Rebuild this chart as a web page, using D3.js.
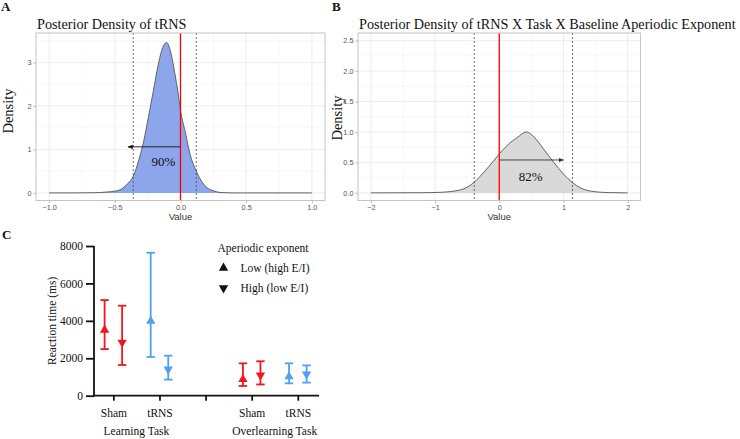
<!DOCTYPE html>
<html><head><meta charset="utf-8">
<script src="https://cdn.jsdelivr.net/npm/d3@7"></script>
<style>
body{margin:0;background:#fff;}
svg{display:block;}
</style></head>
<body>
<svg id="chart" width="740" height="439"></svg>
<script>
// ---------- DATA ----------
// Panel A: posterior density of tRNS
const densAx = [-1,-0.8,-0.65,-0.56,-0.5,-0.46,-0.43,-0.40,-0.36,-0.32,-0.28,-0.245,-0.207,-0.169,-0.131,-0.105,-0.08,-0.042,-0.017,0,0.034,0.072,0.123,0.174,0.21,0.25,0.3,0.4,1];
const densAy = [0,0,0.005,0.02,0.04,0.07,0.13,0.22,0.38,0.73,1.19,1.73,2.34,2.96,3.38,3.46,3.3,2.73,2.27,1.9,1.43,0.9,0.48,0.21,0.1,0.05,0.01,0,0];
const ciA = [-0.36, 0.12];
const arrowA = {from:0, to:-0.40, y:1.06, label:"90%", lx:-0.13, ly:0.62};
const xTicksA = [-1.0,-0.5,0.0,0.5,1.0];
const yTicksA = [0,1,2,3];

// Panel B: posterior density of tRNS x Task x Baseline aperiodic exponent
const densBx = [-2,-1.2,-0.91,-0.6,-0.395,-0.24,-0.084,0,0.124,0.28,0.425,0.54,0.69,0.85,1.0,1.14,1.27,1.42,1.7,2];
const densBy = [0,0.003,0.01,0.05,0.17,0.34,0.53,0.64,0.78,0.91,1.0,0.92,0.72,0.5,0.31,0.17,0.08,0.03,0.005,0];
const ciB = [-0.39, 1.14];
const arrowB = {from:0, to:1.0, y:0.54, label:"82%", lx:0.49, ly:0.2};
const xTicksB = [-2,-1,0,1,2];
const yTicksB = [0,0.5,1.0,1.5,2.0,2.5];

// Panel C: reaction times
const cCategories = ["Sham","tRNS","","Sham","tRNS"];
const cTasks = ["Learning Task","Overlearning Task"];
const cStim  = ["Sham","Sham","tRNS","tRNS","Sham","Sham","tRNS","tRNS"];
const cIndex = [0,0,1,1,3,3,4,4];
const cExp   = ["Low","High","Low","High","Low","High","Low","High"];
const cMean  = [3510,2850,3990,1410,870,1100,1020,1150];
const cUpper = [5110,4810,7640,2140,1730,1840,1730,1620];
const cLower = [2490,1640,2070,860,520,600,660,700];
const cYTicks = [0,2000,4000,6000,8000];
const legendTitle = "Aperiodic exponent";
const legendLabels = ["Low (high E/I)","High (low E/I)"];

// ---------- STYLE ----------
const serif = "'Liberation Serif','Times New Roman',serif";
const sans = "'Liberation Sans',Arial,sans-serif";
const gridCol = "#ebebeb", borderCol = "#c4c4c4", tickTextCol = "#555";
const red = "#f2161e", blue = "#519ff0";

const svg = d3.select("#chart");
const defs = svg.append("defs");
function mk(id,col){
  defs.append("marker").attr("id",id).attr("viewBox","0 0 10 10").attr("refX",9).attr("refY",5)
   .attr("markerWidth",6).attr("markerHeight",6).attr("orient","auto-start-reverse")
   .append("path").attr("d","M0,1 L10,5 L0,9 z").attr("fill",col);
}
mk("arrA","#111"); mk("arrB","#333");

function densityPanel(o){
  const g = svg.append("g");
  const x = d3.scaleLinear().domain(o.xdom).range([o.left,o.right]);
  const y = d3.scaleLinear().domain(o.ydom).range([o.bottom,o.top]);
  g.selectAll(".gxm").data(o.xMinor).enter().append("line")
   .attr("x1",d=>x(d)).attr("x2",d=>x(d)).attr("y1",o.top).attr("y2",o.bottom)
   .attr("stroke","#f3f3f3").attr("stroke-width",0.6);
  g.selectAll(".gym").data(o.yMinor).enter().append("line")
   .attr("y1",d=>y(d)).attr("y2",d=>y(d)).attr("x1",o.left).attr("x2",o.right)
   .attr("stroke","#f3f3f3").attr("stroke-width",0.6);
  g.selectAll(".gx").data(o.xTicks).enter().append("line")
   .attr("x1",d=>x(d)).attr("x2",d=>x(d)).attr("y1",o.top).attr("y2",o.bottom)
   .attr("stroke",gridCol).attr("stroke-width",0.9);
  g.selectAll(".gy").data(o.yTicks).enter().append("line")
   .attr("y1",d=>y(d)).attr("y2",d=>y(d)).attr("x1",o.left).attr("x2",o.right)
   .attr("stroke",gridCol).attr("stroke-width",0.9);
  const pts = o.dx.map((v,i)=>[v,o.dy[i]]);
  const area = d3.area().x(d=>x(d[0])).y0(y(0)).y1(d=>y(d[1])).curve(d3.curveMonotoneX);
  const line = d3.line().x(d=>x(d[0])).y(d=>y(d[1])).curve(d3.curveMonotoneX);
  g.append("path").attr("d",area(pts)).attr("fill",o.fill);
  g.append("path").attr("d",line(pts)).attr("fill","none").attr("stroke","#555").attr("stroke-width",0.9);
  g.selectAll(".ci").data(o.ci).enter().append("line")
   .attr("x1",d=>x(d)).attr("x2",d=>x(d)).attr("y1",o.top).attr("y2",o.bottom)
   .attr("stroke","#555").attr("stroke-width",0.9).attr("stroke-dasharray","2,2");
  g.append("line").attr("x1",x(0)).attr("x2",x(0)).attr("y1",o.top).attr("y2",o.bottom)
   .attr("stroke","#ff0000").attr("stroke-width",1.3);
  g.append("line").attr("x1",x(o.arrow.from)).attr("x2",x(o.arrow.to))
   .attr("y1",y(o.arrow.y)).attr("y2",y(o.arrow.y))
   .attr("stroke",o.arrowCol).attr("stroke-width",0.9).attr("marker-end",`url(#${o.marker})`);
  g.append("text").attr("x",x(o.arrow.lx)).attr("y",y(o.arrow.ly)).attr("text-anchor","middle")
   .attr("font-family",serif).attr("font-size",13).attr("fill","#111").text(o.arrow.label);
  g.append("rect").attr("x",o.left).attr("y",o.top).attr("width",o.right-o.left).attr("height",o.bottom-o.top)
   .attr("fill","none").attr("stroke",borderCol).attr("stroke-width",1);
  const ax = d3.axisBottom(x).tickValues(o.xTicks).tickSize(2.5).tickPadding(2).tickFormat(o.xfmt);
  const axg = g.append("g").attr("transform",`translate(0,${o.bottom})`).call(ax);
  const ay = d3.axisLeft(y).tickValues(o.yTicks).tickSize(2.5).tickPadding(2).tickFormat(o.yfmt);
  const ayg = g.append("g").attr("transform",`translate(${o.left},0)`).call(ay);
  [axg,ayg].forEach(a=>{
    a.select(".domain").remove();
    a.selectAll("line").attr("stroke","#bbb");
    a.selectAll("text").attr("font-family",sans).attr("font-size",7.3).attr("fill",tickTextCol);
  });
  g.append("text").attr("x",(o.left+o.right)/2).attr("y",220).attr("text-anchor","middle")
   .attr("font-family",sans).attr("font-size",9.5).attr("fill","#333").text("Value");
  g.append("text").attr("transform",`translate(${o.ylabX},${o.ylabY}) rotate(-90)`)
   .attr("text-anchor","middle").attr("font-family",serif).attr("font-size",14.5).attr("fill","#111").text("Density");
  g.append("text").attr("x",o.titleX).attr("y",29).attr("font-family",serif).attr("font-size",14.2)
   .attr("fill","#111").text(o.title);
  g.append("text").attr("x",o.letterX).attr("y",11).attr("font-family",serif).attr("font-weight","bold")
   .attr("font-size",13).attr("fill","#111").text(o.letter);
}

densityPanel({left:36,right:325,top:33,bottom:200.5,xdom:[-1.1,1.1],ydom:[-0.175,3.68],
  xTicks:xTicksA,yTicks:yTicksA,xMinor:[-0.75,-0.25,0.25,0.75],yMinor:[0.5,1.5,2.5,3.5],
  dx:densAx,dy:densAy,fill:"#8da5eb",ci:ciA,arrow:arrowA,arrowCol:"#111",marker:"arrA",
  xfmt:d3.format(".1f"),yfmt:d3.format("d"),ylabX:12.5,ylabY:111,titleX:37,title:"Posterior Density of tRNS",
  letterX:1,letter:"A"});

densityPanel({left:358,right:640.5,top:33,bottom:200.5,xdom:[-2.2,2.2],ydom:[-0.125,2.625],
  xTicks:xTicksB,yTicks:yTicksB,xMinor:[-1.5,-0.5,0.5,1.5],yMinor:[0.25,0.75,1.25,1.75,2.25],
  dx:densBx,dy:densBy,fill:"#d9d9d9",ci:ciB,arrow:arrowB,arrowCol:"#333",marker:"arrB",
  xfmt:d3.format("d"),yfmt:d3.format(".1f"),ylabX:342,ylabY:118,titleX:359,
  title:"Posterior Density of tRNS X Task X Baseline Aperiodic Exponent",letterX:332,letter:"B"});

// ---------- PANEL C ----------
const gc = svg.append("g");
const xC = d3.scaleLinear().domain([-0.42,4.46]).range([94,319]);
const yC = d3.scaleLinear().domain([0,8000]).range([395.7,246]);
const off = 0.19;
const xPos = i => xC(cIndex[i] + (cExp[i]==="Low" ? -off : off));
const colOf = i => cStim[i]==="Sham" ? red : blue;

const axC = d3.axisBottom(xC).tickValues([0,1,2,3,4]).tickSizeOuter(0).tickSizeInner(5)
  .tickPadding(8).tickFormat((d,i)=>cCategories[i]);
const axCg = gc.append("g").attr("transform",`translate(0,${yC(0)})`).call(axC);
const ayC = d3.axisLeft(yC).tickValues(cYTicks).tickSizeOuter(0).tickSizeInner(8).tickPadding(3).tickFormat(d3.format("d"));
const ayCg = gc.append("g").attr("transform",`translate(${xC.range()[0]},0)`).call(ayC);
[axCg,ayCg].forEach(a=>{
  a.select(".domain").attr("stroke","#111").attr("stroke-width",1.8);
  a.selectAll(".tick line").attr("stroke","#111").attr("stroke-width",1.8);
  a.selectAll("text").attr("font-family",serif).attr("font-size",11.5).attr("fill","#111");
});
ayCg.select(".domain").attr("d",`M0,${yC(0)+0.9}V${yC(8000)}`);
axCg.select(".domain").attr("d",`M${xC.range()[0]-0.9},0H${xC.range()[1]}`);

cTasks.forEach((t,k)=>{
  gc.append("text").attr("x",(xC(k*3)+xC(k*3+1))/2).attr("y",435).attr("text-anchor","middle")
    .attr("font-family",serif).attr("font-size",11.5).attr("fill","#111").text(t);
});
gc.append("text").attr("transform",`translate(56,${yC(4000)}) rotate(-90)`).attr("text-anchor","middle")
  .attr("font-family",serif).attr("font-size",11.5).attr("fill","#111").text("Reaction time (ms)");
gc.append("text").attr("x",2).attr("y",239).attr("font-family",serif).attr("font-weight","bold")
  .attr("font-size",13).attr("fill","#111").text("C");

const cap = 4.2;
cMean.forEach((m,i)=>{
  const x = xPos(i), c = colOf(i);
  gc.append("line").attr("x1",x).attr("x2",x).attr("y1",yC(cUpper[i])).attr("y2",yC(cLower[i]))
    .attr("stroke",c).attr("stroke-width",1.8);
  [cUpper[i],cLower[i]].forEach(v=>{
    gc.append("line").attr("x1",x-cap).attr("x2",x+cap).attr("y1",yC(v)).attr("y2",yC(v))
      .attr("stroke",c).attr("stroke-width",1.8);
  });
  gc.append("path").attr("d",d3.symbol().type(d3.symbolTriangle).size(38)())
    .attr("transform",`translate(${x},${yC(m)}) rotate(${cExp[i]==="Low"?0:180})`)
    .attr("fill",c);
});

gc.append("text").attr("x",217.5).attr("y",252).attr("font-family",serif).attr("font-size",11.5)
  .attr("fill","#111").text(legendTitle);
legendLabels.forEach((l,k)=>{
  const yy = 268 + k*20;
  gc.append("path").attr("d",d3.symbol().type(d3.symbolTriangle).size(38)())
    .attr("transform",`translate(223.5,${yy}) rotate(${k===0?0:180})`).attr("fill","#111");
  gc.append("text").attr("x",240.5).attr("y",yy+4).attr("font-family",serif).attr("font-size",11.5)
    .attr("fill","#111").text(l);
});
</script>
</body></html>
